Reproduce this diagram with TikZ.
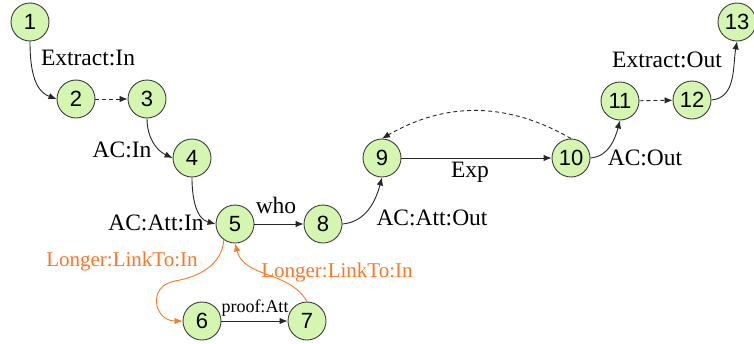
\documentclass[tikz,border=0pt]{standalone}
\usepackage{fontspec}
\newfontfamily\nodefont{Liberation Sans}
\newfontfamily\labfont{Liberation Serif}
\usetikzlibrary{arrows.meta}
\definecolor{nodefill}{RGB}{212,246,176}
\definecolor{nodeline}{RGB}{60,60,60}
\definecolor{orangeln}{RGB}{250,120,40}
\begin{document}
\begin{tikzpicture}[x=1pt,y=1pt,
  state/.style={circle,draw=nodeline,fill=nodefill,line width=0.9pt,minimum size=38pt,inner sep=0pt,font=\nodefont\fontsize{22}{22}\selectfont},
  lab/.style={anchor=base,inner sep=0pt,font=\labfont\fontsize{23.5}{24}\selectfont},
  olab/.style={anchor=base,inner sep=0pt,text=orangeln,font=\labfont\fontsize{21}{22}\selectfont},
  slab/.style={anchor=base,inner sep=0pt,font=\labfont\fontsize{18}{19}\selectfont},
  conn/.style={draw=black!85,line width=0.9pt,-{Latex[length=8pt,width=6.5pt]}},
  dconn/.style={conn,dash pattern=on 4pt off 3pt},
  oconn/.style={draw=orangeln,line width=0.9pt,-{Latex[length=8pt,width=6.5pt]}}
]
\useasboundingbox (0,0) rectangle (754,-343);
% states
\node[state] (n1) at (30,-22) {1};
\node[state] (n2) at (76,-99) {2};
\node[state] (n3) at (147,-99) {3};
\node[state] (n4) at (192,-158) {4};
\node[state] (n5) at (235,-224) {5};
\node[state] (n8) at (323,-224) {8};
\node[state] (n6) at (202,-321) {6};
\node[state] (n7) at (307,-321) {7};
\node[state] (n9) at (382,-158) {9};
\node[state] (n10) at (571,-158) {10};
\node[state] (n11) at (620,-101) {11};
\node[state] (n12) at (692,-100) {12};
\node[state] (n13) at (737,-22) {13};
\coordinate (m) at (175,-281);
% connectors
\draw[conn] (n1.south) to[out=270,in=160] (n2.west);
\draw[dconn] (n2) -- (n3);
\draw[conn] (n3.south) to[out=270,in=155] (n4.west);
\draw[conn] (n4.south) to[out=270,in=165] (n5.west);
\draw[conn] (n5) -- (n8);
\draw[conn] (n8.east) to[out=5,in=255] (n9.south);
\draw[conn] (n9) -- (n10);
\draw[dconn] (n10.north) to[out=150,in=30] (n9.north);
\draw[conn] (n10.east) to[out=5,in=255] (n11.south);
\draw[dconn] (n11) -- (n12);
\draw[conn] (n12.east) to[out=5,in=260] (n13.south);
\draw[conn] (n6) -- (n7);
\draw[oconn] (n5.235) to[out=265,in=10] (m) to[out=190,in=180,looseness=1.8] (n6.west);
\draw[oconn] (n7.north) to[out=120,in=285] (n5.south);
% labels
\node[lab] (l1) at (88,-65) {Extract:In};
\node[lab] (l2) at (122,-157) {AC:In};
\node[lab] (l3) at (156,-230) {AC:Att:In};
\node[lab] (l4) at (276,-213) {who};
\node[lab] (l5) at (432,-225) {AC:Att:Out};
\node[lab] (l6) at (470,-177) {Exp};
\node[lab] (l7) at (645,-165) {AC:Out};
\node[lab] (l8) at (667,-67) {Extract:Out};
\node[olab] (l9) at (122,-266) {Longer:LinkTo:In};
\node[olab] (l10) at (337,-277) {Longer:LinkTo:In};
\node[slab] (l11) at (255,-312) {proof:Att};
\end{tikzpicture}
\end{document}
